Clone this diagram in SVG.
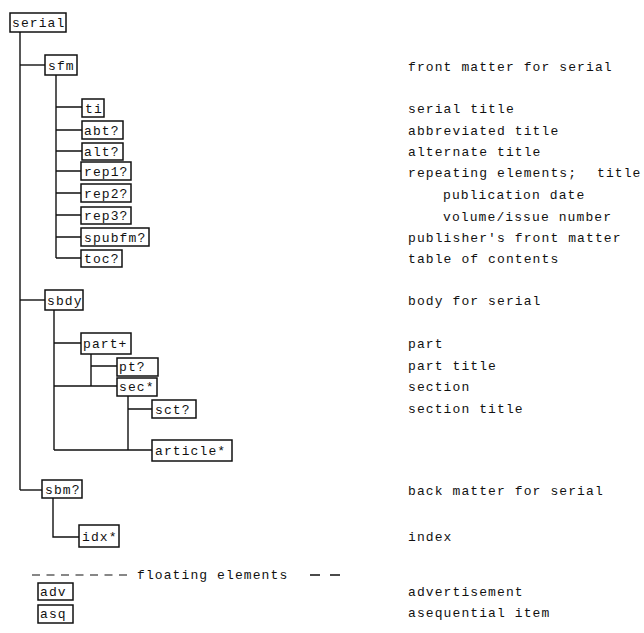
<svg xmlns="http://www.w3.org/2000/svg" width="644" height="633" viewBox="0 0 644 633">
<style>
  text { font-family: "Liberation Mono", "DejaVu Sans Mono", monospace; font-size: 13px; letter-spacing: 1.1px; fill: #111; }
  .box { fill: #fff; stroke: #111; stroke-width: 1.5; }
  .ln { stroke: #111; stroke-width: 1.4; fill: none; }
  .dash { stroke: #111; stroke-width: 1.2; fill: none; stroke-dasharray: 8 6.5; }
</style>
<rect width="644" height="633" fill="#fff"/>
<g id="connectors">
  <path class="ln" d="M20,32 V490"/>
  <path class="ln" d="M20,65 H45"/>
  <path class="ln" d="M20,300 H45"/>
  <path class="ln" d="M20,490 H42"/>
  <path class="ln" d="M56,75 V258"/>
  <path class="ln" d="M56,107 H82 M56,130 H82 M56,151 H82 M56,171 H81 M56,193 H81 M56,215 H81 M56,237 H81 M56,258 H81"/>
  <path class="ln" d="M54,310 V450"/>
  <path class="ln" d="M54,343 H81 M54,386 H117 M54,450 H152"/>
  <path class="ln" d="M91,354 V386 M91,366 H117"/>
  <path class="ln" d="M128,396 V450 M128,409 H152"/>
  <path class="ln" d="M53,498 V537 H79"/>
</g>
<g id="serial"><rect class="box" x="10" y="13" width="56" height="19"/><text x="12" y="27">serial</text></g>
<g id="sfm"><rect class="box" x="45" y="55" width="32" height="20"/><text x="48" y="70">sfm</text></g>
<g id="ti"><rect class="box" x="82" y="99" width="22" height="18"/><text x="85" y="113">ti</text></g>
<g id="abt"><rect class="box" x="82" y="121" width="41" height="18"/><text x="84" y="135">abt?</text></g>
<g id="alt"><rect class="box" x="82" y="143" width="41" height="17"/><text x="84" y="156">alt?</text></g>
<g id="rep1"><rect class="box" x="81" y="162" width="50" height="18"/><text x="84" y="176">rep1?</text></g>
<g id="rep2"><rect class="box" x="81" y="184" width="50" height="18"/><text x="84" y="198">rep2?</text></g>
<g id="rep3"><rect class="box" x="81" y="207" width="50" height="17"/><text x="84" y="220">rep3?</text></g>
<g id="spubfm"><rect class="box" x="81" y="228" width="68" height="18"/><text x="84" y="242">spubfm?</text></g>
<g id="toc"><rect class="box" x="81" y="250" width="41" height="17"/><text x="84" y="263">toc?</text></g>
<g id="sbdy"><rect class="box" x="45" y="290" width="38" height="20"/><text x="47" y="305">sbdy</text></g>
<g id="part"><rect class="box" x="81" y="333" width="50" height="21"/><text x="83" y="348">part+</text></g>
<g id="pt"><rect class="box" x="117" y="358" width="41" height="18"/><text x="119" y="371">pt?</text></g>
<g id="sec"><rect class="box" x="117" y="378" width="40" height="18"/><text x="119" y="391">sec*</text></g>
<g id="sct"><rect class="box" x="152" y="400" width="44" height="18"/><text x="155" y="414">sct?</text></g>
<g id="article"><rect class="box" x="152" y="440" width="80" height="21"/><text x="155" y="455">article*</text></g>
<g id="sbm"><rect class="box" x="42" y="480" width="40" height="18"/><text x="45" y="494">sbm?</text></g>
<g id="idx"><rect class="box" x="79" y="525" width="40" height="22"/><text x="82" y="541">idx*</text></g>
<g id="floating">
  <path class="dash" d="M32,575 H133"/>
  <text x="137" y="579">floating elements</text>
  <path class="ln" d="M310,575 H320 M330,575 H340"/>
</g>
<g id="adv"><rect class="box" x="38" y="583" width="35" height="17"/><text x="40" y="596">adv</text></g>
<g id="asq"><rect class="box" x="38" y="605" width="35" height="18"/><text x="40" y="618">asq</text></g>
<g id="descriptions">
  <text x="408" y="71">front matter for serial</text>
  <text x="408" y="113">serial title</text>
  <text x="408" y="135">abbreviated title</text>
  <text x="408" y="156">alternate title</text>
  <text x="408" y="177">repeating elements;<tspan x="597">title</tspan></text>
  <text x="443" y="199">publication date</text>
  <text x="443" y="221">volume/issue number</text>
  <text x="408" y="242">publisher's front matter</text>
  <text x="408" y="263">table of contents</text>
  <text x="408" y="305">body for serial</text>
  <text x="408" y="348">part</text>
  <text x="408" y="370">part title</text>
  <text x="408" y="391">section</text>
  <text x="408" y="413">section title</text>
  <text x="408" y="495">back matter for serial</text>
  <text x="408" y="541">index</text>
  <text x="408" y="596">advertisement</text>
  <text x="408" y="617">asequential item</text>
</g>
</svg>
